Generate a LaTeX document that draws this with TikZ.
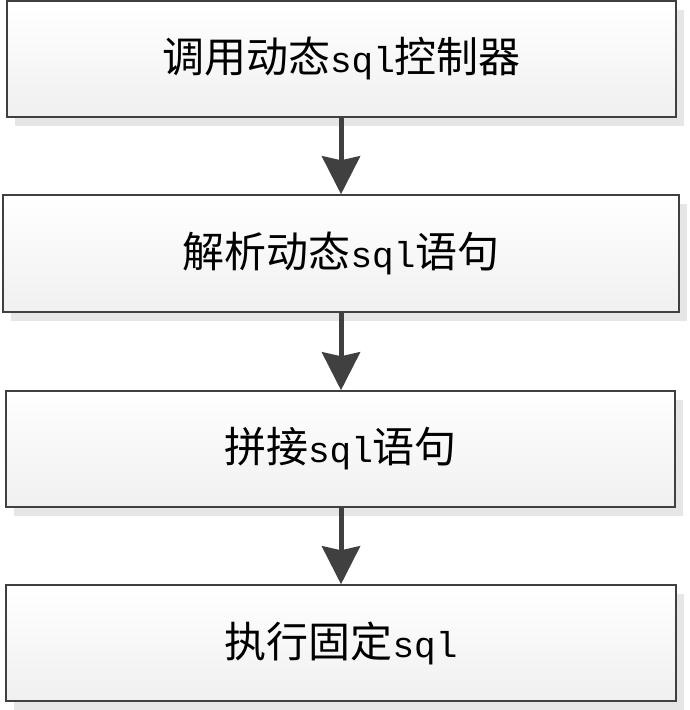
\documentclass[tikz,border=0pt]{standalone}
\usepackage{fontspec}
\newfontfamily\cjk{Noto Sans CJK SC}
\newfontfamily\sqlf{Liberation Mono}
\usetikzlibrary{arrows.meta,shadows}
\definecolor{edge}{HTML}{404040}
\definecolor{shade}{HTML}{E6E6E6}
\definecolor{bot}{HTML}{F0F0F0}
\newcommand{\sqlt}{{\fontsize{36}{36}\sqlf sql}}
\tikzset{
  stepbox/.style={draw=edge, line width=1.5pt, rectangle, inner sep=0pt,
    top color=white, bottom color=bot,
    drop shadow={shadow xshift=8pt, shadow yshift=-9pt, fill=shade, opacity=1},
    font=\fontsize{42}{42}\cjk},
  flow/.style={draw=edge, line width=5pt, -{Stealth[length=38pt,width=38pt,inset=4pt]}, edge}
}
\begin{document}
\begin{tikzpicture}[x=1pt,y=1pt]
\useasboundingbox (0,0) rectangle (689,-710);
\node[stepbox, minimum width=669pt, minimum height=116pt] (b1) at (341.5,-59) {调用动态\sqlt 控制器};
\node[stepbox, minimum width=676pt, minimum height=117pt] (b2) at (341,-253.5) {解析动态\sqlt 语句};
\node[stepbox, minimum width=669pt, minimum height=116pt] (b3) at (340.5,-449) {拼接\sqlt 语句};
\node[stepbox, minimum width=670pt, minimum height=116pt] (b4) at (341,-643) {执行固定\sqlt};
\draw[flow] (b1.south -| 341,0) -- (b2.north -| 341,0);
\draw[flow] (b2.south -| 341,0) -- (b3.north -| 341,0);
\draw[flow] (b3.south -| 341,0) -- (b4.north -| 341,0);
\end{tikzpicture}
\end{document}
